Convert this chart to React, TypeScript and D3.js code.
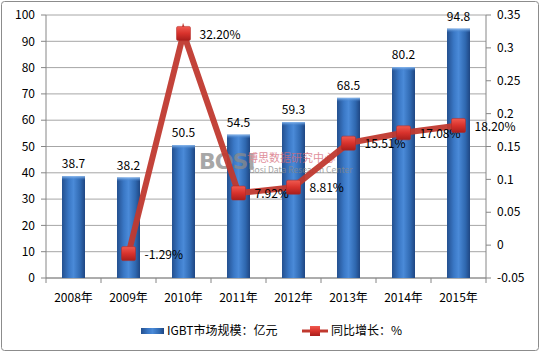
import React from "react";
import * as d3 from "d3";

const years = ["2008年", "2009年", "2010年", "2011年", "2012年", "2013年", "2014年", "2015年"];
const marketSize = [38.7, 38.2, 50.5, 54.5, 59.3, 68.5, 80.2, 94.8];
const growth: (number | null)[] = [null, -0.0129, 0.322, 0.0792, 0.0881, 0.1551, 0.1708, 0.182];
const growthLabels = ["", "-1.29%", "32.20%", "7.92%", "8.81%", "15.51%", "17.08%", "18.20%"];
const leftTicks = [0, 10, 20, 30, 40, 50, 60, 70, 80, 90, 100];
const rightTicks = [-0.05, 0, 0.05, 0.1, 0.15, 0.2, 0.25, 0.3, 0.35];
const seriesNames = ["IGBT市场规模：亿元", "同比增长：%"];

const W = 540, H = 353;
const left = 46, right = 486, top = 15, bottom = 278;
const FONT = "'Microsoft YaHei', 'Noto Sans CJK SC', sans-serif";

export default function App() {
  const x = d3.scaleBand().domain(years).range([left, right]).paddingInner(0).paddingOuter(0);
  const yL = d3.scaleLinear().domain([0, 100]).range([bottom, top]);
  const yR = d3.scaleLinear().domain([-0.05, 0.35]).range([bottom, top]);
  const barW = 23;
  const cx = (d: string) => (x(d) as number) + x.bandwidth() / 2;

  const pts = years
    .map((y, i) => ({ y, v: growth[i], label: growthLabels[i] }))
    .filter((p) => p.v !== null) as { y: string; v: number; label: string }[];
  const line = d3.line<{ y: string; v: number }>().x((p) => cx(p.y)).y((p) => yR(p.v));

  const boundaries = years.map((y) => x(y) as number).concat([right]);

  return (
    <svg width={W} height={H} style={{ position: "absolute", left: 0, top: 0, background: "#fff" }} fontFamily={FONT}>
      <defs>
        <linearGradient id="barG" x1="0" x2="1" y1="0" y2="0">
          <stop offset="0" stopColor="#24508f" />
          <stop offset="0.3" stopColor="#3a78c6" />
          <stop offset="0.5" stopColor="#4a8ad8" />
          <stop offset="0.8" stopColor="#2f68b0" />
          <stop offset="1" stopColor="#1f4682" />
        </linearGradient>
        <linearGradient id="barTop" x1="0" x2="0" y1="0" y2="1">
          <stop offset="0" stopColor="#8dbbef" />
          <stop offset="1" stopColor="#3a78c6" stopOpacity="0" />
        </linearGradient>
        <linearGradient id="mkG" x1="0" x2="0" y1="0" y2="1">
          <stop offset="0" stopColor="#f05a50" />
          <stop offset="0.5" stopColor="#d8322c" />
          <stop offset="1" stopColor="#a81e1c" />
        </linearGradient>
      </defs>
      <rect x={1.5} y={1.5} width={W - 3} height={H - 4} rx={3} fill="#fff" stroke="#8c8c8c" />

      {/* gridlines */}
      {leftTicks.map((t) => (
        <line key={"g" + t} x1={left} x2={right} y1={yL(t)} y2={yL(t)} stroke="#a6a6a6" strokeWidth={1} />
      ))}

      {/* axes */}
      <line x1={left} x2={left} y1={top} y2={bottom} stroke="#868686" />
      <line x1={right} x2={right} y1={top} y2={bottom} stroke="#868686" />
      <line x1={left} x2={right} y1={bottom} y2={bottom} stroke="#868686" />
      {leftTicks.map((t) => (
        <g key={"l" + t}>
          <line x1={left - 5} x2={left} y1={yL(t)} y2={yL(t)} stroke="#868686" />
          <text x={35} y={yL(t)} dy="0.35em" textAnchor="end" fontSize={12} fill="#000">{t}</text>
        </g>
      ))}
      {rightTicks.map((t) => (
        <g key={"r" + t}>
          <line x1={right} x2={right + 5} y1={yR(t)} y2={yR(t)} stroke="#868686" />
          <text x={497} y={yR(t)} dy="0.35em" textAnchor="start" fontSize={12} fill="#000">{+t.toFixed(2)}</text>
        </g>
      ))}
      {boundaries.map((b, i) => (
        <line key={"b" + i} x1={b} x2={b} y1={bottom} y2={bottom + 5} stroke="#868686" />
      ))}
      {years.map((y) => (
        <text key={"x" + y} x={cx(y)} y={298} dy="0.35em" textAnchor="middle" fontSize={12} fill="#000">{y}</text>
      ))}

      {/* bars */}
      {years.map((y, i) => {
        const bx = cx(y) - barW / 2;
        const by = yL(marketSize[i]);
        return (
          <g key={"bar" + y}>
            <rect x={bx} y={by} width={barW} height={bottom - by} fill="url(#barG)" />
            <rect x={bx} y={by} width={barW} height={4} fill="url(#barTop)" />
            <text x={cx(y)} y={by - 8} textAnchor="middle" fontSize={12} fill="#000">{marketSize[i]}</text>
          </g>
        );
      })}

      {/* watermark */}
      <g opacity={0.75}>
        <text x={199} y={169} fontSize={22} fontWeight="bold" fill="#8a8a8a" fontFamily="'DejaVu Sans', sans-serif" letterSpacing={-1}>BOSI</text>
        <text x={247} y={162} fontSize={11} fill="#d66a7a">博思数据研究中心</text>
        <text x={249} y={173} fontSize={8.5} fill="#888">Bosi Data Research Center</text>
      </g>

      {/* line */}
      <path d={line(pts) || ""} fill="none" stroke="#c0392f" strokeWidth={6} strokeLinejoin="miter" opacity={0.95} />
      {pts.map((p) => (
        <g key={"m" + p.y}>
          <rect x={cx(p.y) - 7} y={yR(p.v) - 7} width={14} height={14} rx={1.5} fill="url(#mkG)" stroke="#b02622" strokeWidth={0.5} />
          <text x={cx(p.y) + 16} y={yR(p.v) + 1} dy="0.35em" fontSize={12} fill="#000">{p.label}</text>
        </g>
      ))}

      {/* legend */}
      <rect x={141} y={328} width={23} height={6} fill="url(#barG)" />
      <text x={167} y={331} dy="0.35em" fontSize={12} fill="#000">{seriesNames[0]}</text>
      <line x1={302} x2={328} y1={331} y2={331} stroke="#c0392f" strokeWidth={3} />
      <rect x={310} y={326} width={10} height={10} fill="url(#mkG)" />
      <text x={331} y={331} dy="0.35em" fontSize={12} fill="#000">{seriesNames[1]}</text>
    </svg>
  );
}
